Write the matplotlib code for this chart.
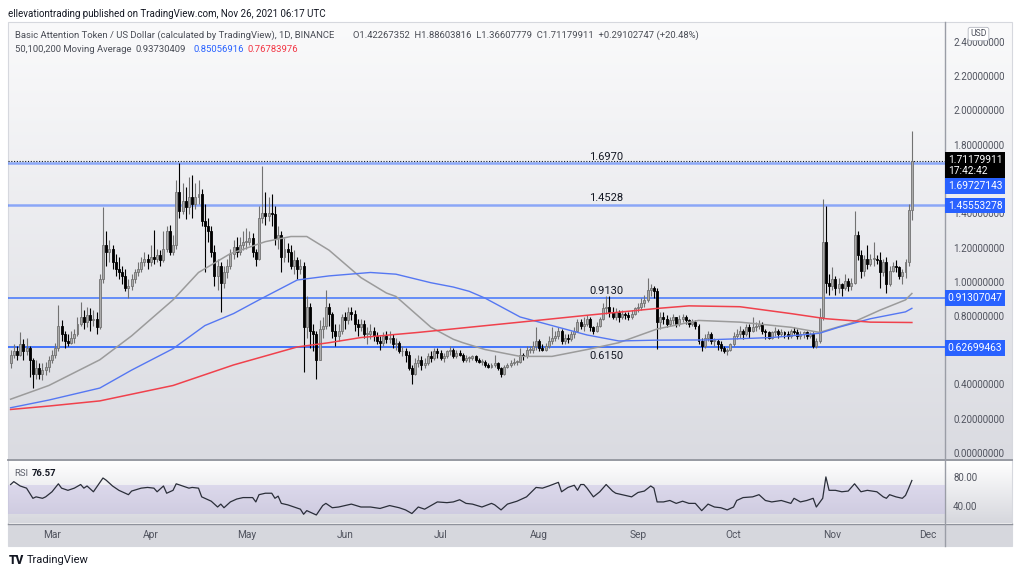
import matplotlib
matplotlib.use("Agg")
import matplotlib.pyplot as plt
import matplotlib.dates as mdates
from matplotlib.colors import LinearSegmentedColormap
from matplotlib.patches import Rectangle
import numpy as np
import pandas as pd

# ---------------- data ----------------
start_date = "2021-02-16"
first_open = 0.53

close = [
    # Feb 16-28
    0.58, 0.60, 0.58, 0.64, 0.60, 0.62, 0.55, 0.47, 0.50, 0.47, 0.49, 0.51, 0.55,
    # Mar
    0.58, 0.62, 0.75, 0.70, 0.66, 0.65, 0.68, 0.70, 0.76, 0.80, 0.77, 0.81, 0.78, 0.79, 0.74, 1.02,
    1.22, 1.18, 1.20, 1.12, 1.08, 1.06, 1.04, 0.97, 0.98, 1.02, 1.06, 1.08, 1.12, 1.14, 1.12,
    # Apr
    1.15, 1.14, 1.16, 1.13, 1.20, 1.30, 1.18, 1.22, 1.53, 1.42, 1.48, 1.44, 1.50, 1.46, 1.50,
    1.52, 1.36, 1.33, 1.30, 1.18, 1.04, 1.10, 1.00, 1.06, 1.10, 1.17, 1.21, 1.18, 1.22, 1.24,
    # May
    1.24, 1.26, 1.18, 1.14, 1.38, 1.41, 1.39, 1.41, 1.40, 1.26, 1.28, 1.15, 1.20, 1.18, 1.10, 1.13,
    1.08, 1.10, 0.74, 0.86, 0.72, 0.70, 0.55, 0.73, 0.75, 0.86, 0.82, 0.72, 0.69, 0.72, 0.80,
    # Jun
    0.78, 0.83, 0.82, 0.76, 0.74, 0.76, 0.70, 0.70, 0.72, 0.69, 0.66, 0.65, 0.69, 0.67, 0.68,
    0.64, 0.65, 0.60, 0.60, 0.58, 0.50, 0.47, 0.53, 0.55, 0.52, 0.53, 0.57, 0.56, 0.60, 0.59,
    # Jul
    0.56, 0.57, 0.60, 0.61, 0.57, 0.59, 0.58, 0.55, 0.56, 0.56, 0.57, 0.55, 0.54, 0.54, 0.52, 0.51,
    0.52, 0.53, 0.50, 0.47, 0.51, 0.52, 0.53, 0.54, 0.54, 0.58, 0.57, 0.61, 0.61, 0.63, 0.66,
    # Aug
    0.62, 0.61, 0.63, 0.66, 0.68, 0.69, 0.72, 0.66, 0.68, 0.67, 0.70, 0.72, 0.77, 0.75, 0.76, 0.79,
    0.74, 0.72, 0.75, 0.79, 0.85, 0.86, 0.83, 0.80, 0.83, 0.80, 0.82, 0.81, 0.80, 0.82, 0.85,
    # Sep
    0.86, 0.88, 0.90, 0.96, 0.97, 0.95, 0.77, 0.80, 0.79, 0.76, 0.78, 0.80, 0.76, 0.79, 0.80,
    0.78, 0.76, 0.77, 0.75, 0.66, 0.63, 0.68, 0.70, 0.66, 0.66, 0.64, 0.62, 0.60, 0.61, 0.64,
    # Oct
    0.69, 0.70, 0.72, 0.70, 0.74, 0.72, 0.74, 0.75, 0.76, 0.72, 0.71, 0.68, 0.71, 0.72, 0.70, 0.71,
    0.70, 0.69, 0.72, 0.71, 0.69, 0.70, 0.71, 0.69, 0.70, 0.63, 0.66, 0.80, 1.24, 1.00, 0.98,
    # Nov 1-26
    1.02, 0.97, 0.99, 0.97, 1.01, 0.98, 1.00, 1.28, 1.16, 1.07, 1.14, 1.11, 1.14, 1.14, 1.13,
    1.06, 1.12, 0.99, 1.07, 1.10, 1.09, 1.04, 1.06, 1.12, 1.42267352, 1.71179911,
]

high = [
    0.61, 0.64, 0.63, 0.71, 0.67, 0.68, 0.63, 0.56, 0.55, 0.53, 0.53, 0.54, 0.57,
    0.61, 0.65, 0.87, 0.78, 0.72, 0.70, 0.72, 0.73, 0.80, 0.89, 0.84, 0.86, 0.85, 0.84, 0.83, 1.05,
    1.44, 1.30, 1.25, 1.22, 1.17, 1.15, 1.10, 1.08, 1.02, 1.05, 1.08, 1.12, 1.15, 1.18, 1.17,
    1.22, 1.31, 1.20, 1.19, 1.30, 1.33, 1.34, 1.28, 1.60, 1.70, 1.58, 1.56, 1.62, 1.63, 1.58,
    1.60, 1.55, 1.46, 1.38, 1.33, 1.22, 1.14, 1.12, 1.10, 1.14, 1.20, 1.25, 1.27, 1.27, 1.30,
    1.32, 1.30, 1.29, 1.20, 1.45, 1.68, 1.53, 1.50, 1.52, 1.45, 1.33, 1.30, 1.26, 1.23, 1.22, 1.19,
    1.15, 1.14, 1.12, 0.92, 0.88, 0.76, 0.72, 0.78, 0.80, 0.96, 0.88, 0.83, 0.76, 0.76, 0.82,
    0.83, 0.86, 0.86, 0.84, 0.79, 0.79, 0.78, 0.74, 0.76, 0.74, 0.71, 0.69, 0.71, 0.72, 0.72,
    0.70, 0.68, 0.66, 0.63, 0.62, 0.60, 0.52, 0.56, 0.58, 0.57, 0.56, 0.59, 0.60, 0.62, 0.62,
    0.61, 0.59, 0.61, 0.63, 0.62, 0.61, 0.61, 0.59, 0.58, 0.57, 0.58, 0.58, 0.56, 0.555, 0.55, 0.53,
    0.53, 0.58, 0.54, 0.51, 0.52, 0.53, 0.55, 0.56, 0.55, 0.62, 0.59, 0.63, 0.63, 0.66, 0.74,
    0.67, 0.64, 0.65, 0.69, 0.74, 0.72, 0.74, 0.73, 0.70, 0.70, 0.72, 0.74, 0.79, 0.79, 0.80, 0.81,
    0.80, 0.75, 0.77, 0.80, 0.88, 0.92, 0.92, 0.86, 0.85, 0.84, 0.84, 0.83, 0.83, 0.84, 0.86,
    0.88, 0.91, 0.93, 1.03, 0.99, 0.98, 0.97, 0.83, 0.83, 0.81, 0.80, 0.82, 0.80, 0.81, 0.82,
    0.81, 0.79, 0.79, 0.78, 0.76, 0.68, 0.70, 0.72, 0.71, 0.68, 0.67, 0.66, 0.63, 0.62, 0.65,
    0.71, 0.73, 0.75, 0.73, 0.76, 0.76, 0.80, 0.77, 0.78, 0.77, 0.73, 0.72, 0.72, 0.74, 0.73, 0.73,
    0.72, 0.72, 0.73, 0.74, 0.73, 0.72, 0.72, 0.72, 0.71, 0.71, 0.68, 0.85, 1.49, 1.45, 1.05,
    1.09, 1.04, 1.03, 1.00, 1.05, 1.03, 1.03, 1.42, 1.30, 1.19, 1.16, 1.22, 1.17, 1.24, 1.16,
    1.18, 1.14, 1.15, 1.10, 1.12, 1.13, 1.10, 1.08, 1.14, 1.46, 1.88603816,
]

low = [
    0.50, 0.56, 0.55, 0.57, 0.55, 0.58, 0.45, 0.385, 0.44, 0.44, 0.43, 0.46, 0.48,
    0.53, 0.56, 0.60, 0.66, 0.62, 0.63, 0.64, 0.65, 0.69, 0.75, 0.73, 0.74, 0.72, 0.75, 0.70, 0.73,
    1.00, 1.10, 1.12, 1.08, 1.04, 1.02, 0.99, 0.95, 0.91, 0.96, 1.00, 1.04, 1.06, 1.10, 1.08,
    1.10, 1.11, 1.12, 1.10, 1.12, 1.18, 1.16, 1.16, 1.20, 1.38, 1.40, 1.37, 1.40, 1.38, 1.43,
    1.46, 1.33, 1.06, 1.24, 1.15, 0.98, 0.96, 0.83, 0.97, 1.03, 1.08, 1.14, 1.15, 1.16, 1.19,
    1.20, 1.22, 1.15, 1.10, 1.13, 1.35, 1.34, 1.36, 1.33, 1.22, 1.20, 1.06, 1.12, 1.12, 1.08, 1.05,
    1.02, 1.05, 0.48, 0.68, 0.62, 0.60, 0.44, 0.55, 0.68, 0.73, 0.75, 0.68, 0.63, 0.66, 0.70,
    0.73, 0.76, 0.78, 0.72, 0.69, 0.72, 0.68, 0.64, 0.67, 0.66, 0.64, 0.61, 0.63, 0.65, 0.65,
    0.62, 0.61, 0.59, 0.57, 0.54, 0.49, 0.41, 0.46, 0.51, 0.49, 0.50, 0.52, 0.54, 0.55, 0.56,
    0.55, 0.54, 0.56, 0.58, 0.56, 0.56, 0.57, 0.54, 0.54, 0.54, 0.55, 0.54, 0.53, 0.52, 0.51, 0.50,
    0.50, 0.51, 0.49, 0.45, 0.46, 0.50, 0.51, 0.52, 0.52, 0.53, 0.55, 0.56, 0.59, 0.59, 0.61,
    0.60, 0.60, 0.60, 0.62, 0.64, 0.66, 0.67, 0.64, 0.64, 0.65, 0.66, 0.68, 0.71, 0.73, 0.72, 0.75,
    0.72, 0.70, 0.71, 0.74, 0.78, 0.82, 0.80, 0.79, 0.78, 0.77, 0.79, 0.79, 0.78, 0.79, 0.81,
    0.83, 0.84, 0.86, 0.89, 0.92, 0.91, 0.615, 0.73, 0.76, 0.74, 0.75, 0.76, 0.74, 0.75, 0.77,
    0.76, 0.74, 0.75, 0.73, 0.64, 0.60, 0.62, 0.66, 0.64, 0.63, 0.61, 0.60, 0.59, 0.58, 0.60,
    0.63, 0.67, 0.68, 0.67, 0.69, 0.68, 0.71, 0.72, 0.73, 0.70, 0.67, 0.67, 0.67, 0.69, 0.68, 0.69,
    0.68, 0.67, 0.68, 0.70, 0.67, 0.67, 0.68, 0.67, 0.68, 0.62, 0.62, 0.65, 0.78, 0.94, 0.93,
    0.96, 0.93, 0.94, 0.92, 0.96, 0.95, 0.96, 0.99, 1.13, 1.03, 1.04, 1.08, 1.10, 1.10, 1.11,
    0.97, 1.04, 0.94, 0.98, 1.06, 1.06, 1.02, 0.99, 1.03, 1.10, 1.36607779,
]

# moving averages (day offset from start_date, value)
ma50_day = [0, 12, 28, 38, 51, 59, 69, 80, 88, 93, 100, 110, 118, 121, 132, 139, 142, 149, 160,
            170, 181, 191, 203, 216, 229, 245, 254, 264, 273, 281, 283]
ma50_val = [0.32, 0.40, 0.55, 0.69, 0.90, 1.06, 1.17, 1.24, 1.27, 1.27, 1.19, 1.03, 0.94, 0.92,
            0.74, 0.67, 0.65, 0.61, 0.57, 0.57, 0.61, 0.65, 0.73, 0.78, 0.77, 0.74, 0.71, 0.765,
            0.84, 0.90, 0.93730409]
ma100_day = [0, 12, 28, 38, 51, 61, 70, 78, 90, 100, 113, 121, 132, 139, 144, 149, 160, 170, 181,
             191, 203, 218, 239, 254, 260, 270, 281, 283]
ma100_val = [0.27, 0.315, 0.385, 0.49, 0.615, 0.75, 0.82, 0.90, 1.016, 1.04, 1.06, 1.05, 1.00,
             0.975, 0.95, 0.91, 0.80, 0.75, 0.695, 0.66, 0.665, 0.666, 0.68, 0.705, 0.74, 0.79,
             0.83, 0.85056916]
ma200_day = [0, 12, 28, 51, 70, 90, 100, 110, 128, 144, 160, 181, 203, 213, 229, 245, 256, 270, 283]
ma200_val = [0.26, 0.28, 0.31, 0.40, 0.52, 0.625, 0.65, 0.68, 0.71, 0.74, 0.77, 0.81, 0.85, 0.865,
             0.86, 0.82, 0.79, 0.77, 0.76783976]

# RSI (day offset, value)
rsi_day = [0, 1, 3, 5, 7, 8, 10, 11, 13, 15, 16, 18, 20, 22, 23, 24, 26, 29, 30, 32,
           34, 37, 38, 41, 43, 45, 46, 48, 49, 51, 52, 54, 56, 57, 59, 60, 63, 65, 66, 67,
           69, 71, 73, 76, 77, 78, 80, 82, 83, 84, 85, 87, 89, 91, 92, 93, 96, 98, 99, 101,
           103, 107, 110, 113, 116, 119, 122, 124, 126, 128, 130, 132, 134, 137, 139, 141, 143, 145, 148, 151,
           152, 154, 156, 159, 162, 165, 167, 169, 172, 173, 175, 177, 178, 179, 180, 181, 183, 185, 187, 189,
           190, 192, 195, 197, 199, 201, 202, 203, 205, 207, 209, 211, 213, 215, 217, 219, 221, 223, 225, 227,
           228, 230, 233, 235, 237, 239, 242, 245, 246, 248, 250, 252, 253, 255, 256, 257, 259, 261, 263, 265,
           267, 269, 272, 274, 275, 276, 278, 280, 281, 282, 283]
rsi_val = [71, 75, 69, 66, 52, 54, 52, 54, 61, 72, 66, 63, 66, 71, 66, 69, 61, 80, 77, 69,
           63, 57, 62, 66, 67, 66, 61, 69, 59, 63, 72, 69, 66, 67, 66, 54, 48, 40, 44, 39,
           47, 51, 53, 53, 47, 57, 59, 59, 52, 55, 45, 43, 40, 37, 30, 35, 29, 42, 45, 39,
           40, 44, 40, 40, 38, 42, 39, 36, 31, 40, 37, 42, 47, 46, 47, 50, 45, 44, 40, 45,
           43, 36, 44, 48, 54, 67, 66, 69, 74, 61, 67, 70, 63, 71, 71, 66, 54, 61, 71, 62,
           59, 57, 54, 60, 62, 69, 66, 47, 47, 49, 45, 48, 45, 45, 35, 44, 40, 39, 36, 40,
           49, 53, 54, 57, 49, 47, 49, 45, 52, 47, 49, 52, 40, 52, 81.5, 63, 63, 61, 62, 72,
           61, 63, 61, 54, 52, 57, 54, 52, 56, 66, 76.57]

level_values = [1.69727143, 1.45553278, 0.91307047, 0.62699463]
level_texts = ["1.6970", "1.4528", "0.9130", "0.6150"]
last_price = 1.71179911
# 0.6 and 1.6 are hidden behind the price boxes in the reference
price_ticks = [0.0, 0.2, 0.4, 0.8, 1.0, 1.2, 1.4, 1.8, 2.0, 2.2, 2.4]
rsi_ticks = [80, 40]
month_labels = ["Mar", "Apr", "May", "Jun", "Jul", "Aug", "Sep", "Oct", "Nov", "Dec"]
month_starts = ["2021-03-01", "2021-04-01", "2021-05-01", "2021-06-01", "2021-07-01",
                "2021-08-01", "2021-09-01", "2021-10-01", "2021-11-01", "2021-12-01"]

# ---------------- figure ----------------
plt.rcParams["font.family"] = ["Roboto", "DejaVu Sans"]
W, H = 1024, 574
fig = plt.figure(figsize=(W / 100, H / 100), dpi=100)


def px_axes(x0, y0, x1, y1, **kw):
    return fig.add_axes([x0 / W, 1 - y1 / H, (x1 - x0) / W, (y1 - y0) / H], **kw)


TEXT = "#131722"
GREY_TXT = "#50535e"
LEG = "#4a4d56"
LEG_FS = 6.8

# background / frame
bg = px_axes(0, 0, W, H)
bg.axis("off")
grad = np.linspace(0, 1, 256).reshape(-1, 1)
cm_main = LinearSegmentedColormap.from_list("m", ["#fafafb", "#dadbe1"])
cm_rsi = LinearSegmentedColormap.from_list("r", ["#ffffff", "#d6d7dd"])
bg.imshow(grad, extent=(8, 1012, 459, 22), aspect="auto", cmap=cm_main, origin="upper")
bg.imshow(grad, extent=(8, 1012, 523, 461), aspect="auto", cmap=cm_rsi, origin="upper")
bg.add_patch(Rectangle((8, 524), 1004, 22, fc="#d6d7dd", ec="none"))
bg.plot([8, 1012], [460, 460], color="#8f929b", lw=1.3)
bg.plot([8, 1012], [523.5, 523.5], color="#8f929b", lw=1.0)
bg.plot([945, 945], [22, 546], color="#9a9da6", lw=1.0)
bg.add_patch(Rectangle((8, 22), 1004, 524, fc="none", ec="#d6d8de", lw=0.8))
bg.set_xlim(0, W)
bg.set_ylim(H, 0)

# header & legends
bg.text(8, 14, "ellevationtrading published on TradingView.com, Nov 26, 2021 06:17 UTC",
        fontsize=7.0, color=TEXT, va="center", ha="left")
bg.text(15, 35, "Basic Attention Token / US Dollar (calculated by TradingView), 1D, BINANCE",
        fontsize=LEG_FS, color=LEG, va="center")
bg.text(353, 35, "O1.42267352  H1.88603816  L1.36607779  C1.71179911  +0.29102747 (+20.48%)",
        fontsize=LEG_FS, color=LEG, va="center")
bg.text(15, 49, "50,100,200 Moving Average", fontsize=LEG_FS, color=LEG, va="center")
bg.text(136, 49, "0.93730409", fontsize=LEG_FS, color=LEG, va="center")
bg.text(193, 49, "0.85056916", fontsize=LEG_FS, color="#2962ff", va="center")
bg.text(248, 49, "0.76783976", fontsize=LEG_FS, color="#f23645", va="center")
bg.text(14, 474, "RSI", fontsize=6.8, color="#5d606b", va="center")
bg.text(32, 474, "76.57", fontsize=6.8, color=TEXT, va="center", fontweight="bold")
bg.text(9, 560, "TV", fontsize=8.5, color=TEXT, va="center", fontweight="heavy")
bg.text(27, 560, "TradingView", fontsize=8.0, color=TEXT, va="center")

# ---------------- price pane ----------------
t0 = mdates.date2num(pd.Timestamp(start_date))
dates = pd.date_range(start_date, periods=len(close), freq="D")
x = mdates.date2num(dates)
o = np.array([first_open] + close[:-1])
c = np.array(close)
h = np.array(high)
l = np.array(low)
up = c >= o

ax = px_axes(8, 22, 945, 459)
ax.patch.set_alpha(0)
YLIM = ((454 - 459) / 171.25, (454 - 22) / 171.25)
XLIM = (t0 - 0.82, t0 + 293.4)
ax.set_ylim(*YLIM)
ax.set_xlim(*XLIM)
ax.axis("off")

for v, a, lw in zip(level_values, [0.5, 0.5, 0.8, 1.0], [1.8, 1.8, 1.2, 1.2]):
    ax.axhline(v, color="#2962ff", alpha=a, lw=lw, zorder=1)
ax.axhline(last_price, color=TEXT, lw=0.8, ls=(0, (1, 1.5)), zorder=1)

UP_FACE, UP_EDGE = "#ababab", "#727272"
ax.vlines(x[up], l[up], h[up], color=UP_EDGE, lw=0.8, zorder=2)
ax.vlines(x[~up], l[~up], h[~up], color="#000000", lw=0.8, zorder=2)
body_bottom = np.minimum(o, c)
body_h = np.maximum(np.abs(c - o), 0.004)
ax.bar(x[up], body_h[up], bottom=body_bottom[up], width=0.62, color=UP_FACE,
       edgecolor=UP_EDGE, linewidth=0.6, zorder=3)
ax.bar(x[~up], body_h[~up], bottom=body_bottom[~up], width=0.62, color="#000000",
       edgecolor="#000000", linewidth=0.6, zorder=3)

ax.plot(t0 + np.array(ma50_day), ma50_val, color="#9b9b9b", lw=1.1, zorder=4)
ax.plot(t0 + np.array(ma100_day), ma100_val, color="#5577f2", lw=1.0, zorder=4)
ax.plot(t0 + np.array(ma200_day), ma200_val, color="#f0414c", lw=1.1, zorder=4)

label_x = t0 + 187
for v, s in zip(level_values, level_texts):
    below = s == "0.6150"
    ax.annotate(s, xy=(label_x, v), xytext=(0, -3 if below else 1), textcoords="offset points",
                ha="center", va="top" if below else "bottom", fontsize=8, color=TEXT, zorder=6)

# ---------------- price scale ----------------
axp = px_axes(945, 22, 1012, 459)
axp.patch.set_alpha(0)
axp.set_ylim(*YLIM)
axp.set_xlim(0, 1)
axp.axis("off")
for v in price_ticks:
    axp.text(0.12, v, f"{v:.8f}", fontsize=7, color=GREY_TXT, va="center", ha="left", zorder=2)
axp.text(0.5, YLIM[1] - 0.07, "USD", fontsize=6.2, color=GREY_TXT, ha="center", va="center",
         bbox=dict(boxstyle="round,pad=0.25", fc="white", ec="#b2b5be", lw=0.6), zorder=5)
axp.annotate(f"{last_price:.8f}\n17:42:42", xy=(0.04, last_price), xytext=(0, -3.3),
             textcoords="offset points", fontsize=7.4, color="white", va="center", ha="left",
             linespacing=1.1, zorder=6,
             bbox=dict(boxstyle="square,pad=0.3", fc="#000000", ec="none"))
for v, dy in zip(level_values, [-16.3, -0.6, 0, -0.8]):
    axp.annotate(f"{v:.8f}", xy=(0.04, v), xytext=(0, dy), textcoords="offset points",
                 fontsize=7.4, color="white", va="center", ha="left", zorder=6,
                 bbox=dict(boxstyle="square,pad=0.28", fc="#2962ff", ec="none"))

# ---------------- RSI pane ----------------
RLIM = (80 - (523 - 478) * 1.379, 80 - (461 - 478) * 1.379)
axr = px_axes(8, 461, 945, 523)
axr.patch.set_alpha(0)
axr.set_xlim(*XLIM)
axr.set_ylim(*RLIM)
axr.axis("off")
axr.axhspan(30, 70, color="#b9aee0", alpha=0.35, lw=0)
axr.plot(t0 + np.array(rsi_day), rsi_val, color="#2a2e39", lw=0.9)

axrs = px_axes(945, 461, 1012, 523)
axrs.patch.set_alpha(0)
axrs.set_ylim(*RLIM)
axrs.set_xlim(0, 1)
axrs.axis("off")
for v in rsi_ticks:
    axrs.text(0.12, v, f"{v:.2f}", fontsize=7, color=GREY_TXT, va="center", ha="left")

# ---------------- time axis ----------------
axt = px_axes(8, 524, 945, 546)
axt.patch.set_alpha(0)
axt.set_xlim(*XLIM)
axt.set_ylim(0, 1)
axt.axis("off")
for d, s in zip(month_starts, month_labels):
    axt.text(mdates.date2num(pd.Timestamp(d)), 0.5, s, fontsize=7.3, color=GREY_TXT,
             ha="center", va="center")

fig.savefig("out.png", dpi=100)
